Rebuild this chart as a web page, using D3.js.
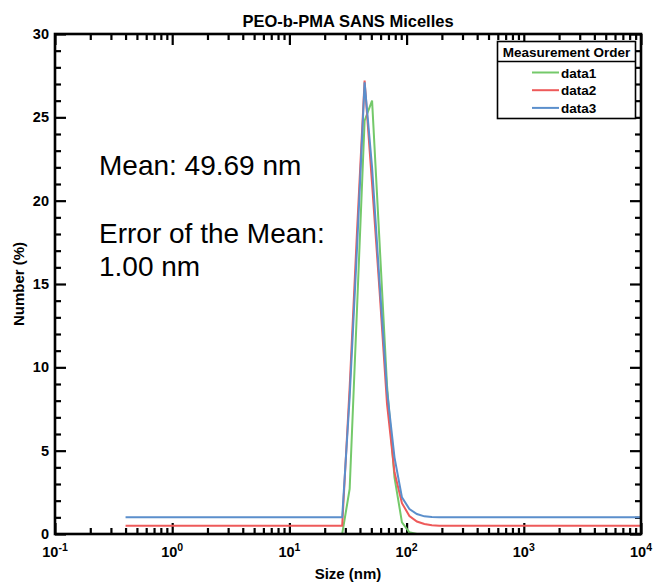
<!DOCTYPE html>
<html>
<head>
<meta charset="utf-8">
<script src="https://cdn.jsdelivr.net/npm/d3@7"></script>
<style>
  body { margin: 0; background: #fff; }
  text { font-family: "Liberation Sans", Arial, sans-serif; }
</style>
</head>
<body>
<div id="chart"></div>
<script>
// size bins (nm)
var sizes = [
  0.4, 0.4632, 0.5365, 0.6213, 0.7195, 0.8332, 0.9649, 1.117, 1.294, 1.499,
  1.736, 2.010, 2.328, 2.696, 3.122, 3.615, 4.187, 4.849, 5.615, 6.503,
  7.531, 8.721, 10.10, 11.70, 13.54, 15.69, 18.17, 21.04, 24.36, 28.21,
  32.67, 37.84, 43.82, 50.75, 58.77, 68.06, 78.82, 91.28, 105.7, 122.4,
  141.8, 164.2, 190.1, 220.2, 255.0, 295.3, 342.0, 396.1, 458.7, 531.2,
  615.1, 712.4, 825.0, 955.4, 1106, 1281, 1484, 1718, 1990, 2305,
  2669, 3091, 3580, 4145, 4801, 5560, 6439, 7456, 8635, 10000
];

var data1 = [
  0, 0, 0, 0, 0, 0, 0, 0, 0, 0,
  0, 0, 0, 0, 0, 0, 0, 0, 0, 0,
  0, 0, 0, 0, 0, 0, 0, 0, 0, 0,
  2.7, 13.7, 24.8, 26.0, 17.5, 8.9, 3.4, 0.7, 0.1, 0,
  0, 0, 0, 0, 0, 0, 0, 0, 0, 0,
  0, 0, 0, 0, 0, 0, 0, 0, 0, 0,
  0, 0, 0, 0, 0, 0, 0, 0, 0, 0
];
var data2 = [
  0.5, 0.5, 0.5, 0.5, 0.5, 0.5, 0.5, 0.5, 0.5, 0.5,
  0.5, 0.5, 0.5, 0.5, 0.5, 0.5, 0.5, 0.5, 0.5, 0.5,
  0.5, 0.5, 0.5, 0.5, 0.5, 0.5, 0.5, 0.5, 0.5, 0.5,
  8.8, 18.3, 27.2, 21.0, 14.6, 7.8, 3.7, 1.85, 1.08, 0.75,
  0.6, 0.52, 0.5, 0.5, 0.5, 0.5, 0.5, 0.5, 0.5, 0.5,
  0.5, 0.5, 0.5, 0.5, 0.5, 0.5, 0.5, 0.5, 0.5, 0.5,
  0.5, 0.5, 0.5, 0.5, 0.5, 0.5, 0.5, 0.5, 0.5, 0.5
];
var data3 = [
  1, 1, 1, 1, 1, 1, 1, 1, 1, 1,
  1, 1, 1, 1, 1, 1, 1, 1, 1, 1,
  1, 1, 1, 1, 1, 1, 1, 1, 1, 1,
  8.2, 17.3, 27.1, 22.0, 15.1, 8.6, 4.6, 2.2, 1.5, 1.2,
  1.06, 1.02, 1, 1, 1, 1, 1, 1, 1, 1,
  1, 1, 1, 1, 1, 1, 1, 1, 1, 1,
  1, 1, 1, 1, 1, 1, 1, 1, 1, 1
];

var seriesNames = ["data1", "data2", "data3"];
var seriesColors = ["#74c96a", "#ee5a5a", "#5b8fcc"];
var xDecades = [0.1, 1, 10, 100, 1000, 10000];
var xExponents = ["-1", "0", "1", "2", "3", "4"];
var yTicks = [0, 5, 10, 15, 20, 25, 30];

var width = 657, height = 584;
var pLeft = 55, pRight = 641, pTop = 34, pBottom = 534;

var svg = d3.select("#chart").append("svg")
  .attr("width", width)
  .attr("height", height);

var x = d3.scaleLog().domain([0.1, 10000]).range([pLeft, pRight]);
var y = d3.scaleLinear().domain([0, 30]).range([pBottom, pTop]);

// minor ticks
var xMinor = [];
for (var d = 0; d < 5; d++) {
  for (var k = 2; k <= 9; k++) xMinor.push(k * xDecades[d]);
}
var yMinor = d3.range(0, 31).filter(function(v) { return v % 5 != 0; });

function tickAxis(axis, vals, size) {
  return axis.tickValues(vals).tickSize(-size).tickSizeOuter(0).tickFormat("");
}

var axes = [
  [d3.axisBottom, "translate(0," + pBottom + ")", x],
  [d3.axisTop, "translate(0," + pTop + ")", x],
  [d3.axisLeft, "translate(" + pLeft + ",0)", y],
  [d3.axisRight, "translate(" + pRight + ",0)", y]
];
axes.forEach(function(a) {
  var isX = a[2] === x;
  svg.append("g").attr("transform", a[1])
    .call(tickAxis(a[0](a[2]), isX ? xDecades : yTicks, 11));
  svg.append("g").attr("transform", a[1])
    .call(tickAxis(a[0](a[2]), isX ? xMinor : yMinor, 6));
});
svg.selectAll(".domain").remove();
svg.selectAll(".tick line").attr("stroke", "#000").attr("stroke-width", 2.2);

// lines
var line = d3.line()
  .x(function(d) { return x(d[0]); })
  .y(function(d) { return y(d[1]); });

[data1, data2, data3].forEach(function(vals, i) {
  svg.append("path")
    .datum(sizes.map(function(s, j) { return [s, vals[j]]; }))
    .attr("fill", "none")
    .attr("stroke", seriesColors[i])
    .attr("stroke-width", 2)
    .attr("d", line);
});

// frame
svg.append("rect")
  .attr("x", pLeft).attr("y", pTop)
  .attr("width", pRight - pLeft).attr("height", pBottom - pTop)
  .attr("fill", "none").attr("stroke", "#000").attr("stroke-width", 2.6);

// x tick labels
xDecades.forEach(function(v, i) {
  var t = svg.append("text")
    .attr("x", x(v)).attr("y", 557)
    .attr("text-anchor", "middle")
    .attr("font-weight", "bold").attr("font-size", 14.5);
  t.append("tspan").text("10");
  t.append("tspan").attr("dy", -6).attr("font-size", 10.5).text(xExponents[i]);
});

// y tick labels
svg.selectAll(".ylab").data(yTicks).enter().append("text")
  .attr("x", 49).attr("y", function(d) { return y(d) + 5; })
  .attr("text-anchor", "end")
  .attr("font-weight", "bold").attr("font-size", 14.5)
  .text(function(d) { return d; });

// titles
svg.append("text").attr("x", 348).attr("y", 27)
  .attr("text-anchor", "middle").attr("font-weight", "bold").attr("font-size", 16.5)
  .text("PEO-b-PMA SANS Micelles");
svg.append("text").attr("x", 348).attr("y", 579)
  .attr("text-anchor", "middle").attr("font-weight", "bold").attr("font-size", 15)
  .text("Size (nm)");
svg.append("text")
  .attr("transform", "translate(24,284) rotate(-90)")
  .attr("text-anchor", "middle").attr("font-weight", "bold").attr("font-size", 15)
  .text("Number (%)");

// annotation
var notes = [["Mean: 49.69 nm", 175], ["Error of the Mean:", 243], ["1.00 nm", 276]];
notes.forEach(function(n) {
  svg.append("text").attr("x", 99).attr("y", n[1])
    .attr("font-size", 28).text(n[0]);
});

// legend
var lg = svg.append("g");
lg.append("rect").attr("x", 497.5).attr("y", 41.5).attr("width", 138).attr("height", 77)
  .attr("fill", "#fff").attr("stroke", "#000").attr("stroke-width", 1.6);
lg.append("line").attr("x1", 497.5).attr("x2", 635.5).attr("y1", 61.5).attr("y2", 61.5)
  .attr("stroke", "#000").attr("stroke-width", 1.6);
lg.append("text").attr("x", 566.5).attr("y", 56.5).attr("text-anchor", "middle")
  .attr("font-weight", "bold").attr("font-size", 13.5).text("Measurement Order");
seriesNames.forEach(function(name, i) {
  var yy = 72.5 + i * 17.7;
  lg.append("line").attr("x1", 532).attr("x2", 559).attr("y1", yy).attr("y2", yy)
    .attr("stroke", seriesColors[i]).attr("stroke-width", 2);
  lg.append("text").attr("x", 561).attr("y", yy + 5)
    .attr("font-weight", "bold").attr("font-size", 13.5).text(name);
});
</script>
</body>
</html>
